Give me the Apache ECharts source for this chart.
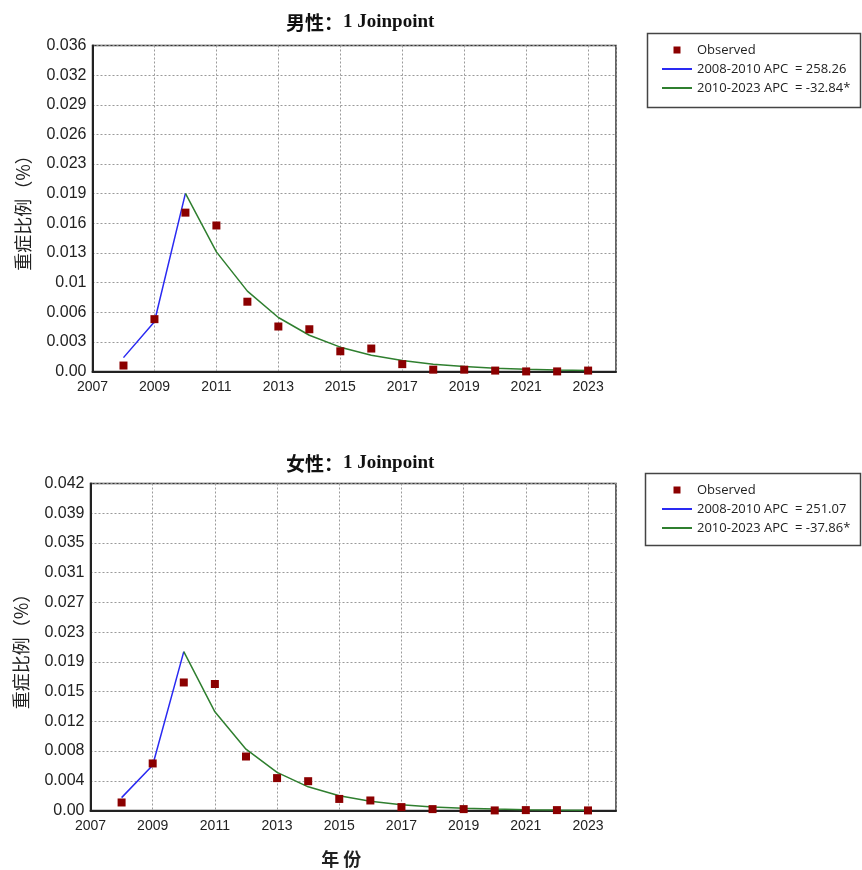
<!DOCTYPE html>
<html><head><meta charset="utf-8">
<script src="https://cdn.jsdelivr.net/npm/echarts@6/dist/echarts.min.js"></script>
<style>html,body{margin:0;padding:0;background:#fff}#c{width:862px;height:870px}</style>
</head><body><div id="c"></div>
<script>
// ---- data ----
const baseYear = 2007;
const years = [2008,2009,2010,2011,2012,2013,2014,2015,2016,2017,2018,2019,2020,2021,2022,2023];
const xTickLabels = ['2007','2009','2011','2013','2015','2017','2019','2021','2023'];

const maleObserved = [0.00065,0.0057,0.0173,0.0159,0.0076,0.0049,0.0046,0.0022,0.0025,0.0008,0.0002,0.0002,0.0001,0.00001,0.00001,0.0001];
const maleSeg1Years = [2008,2009,2010];
const maleSeg1Fit = [0.00151,0.00542,0.0194];
const maleSeg2Years = [2010,2011,2012,2013,2014,2015,2016,2017,2018,2019,2020,2021,2022,2023];
const maleSeg2Fit = [0.0194,0.01303,0.00875,0.00588,0.00395,0.00265,0.00178,0.00120,0.00080,0.00054,0.00036,0.00024,0.00016,0.00011];
const maleYTicks = ['0.00','0.003','0.006','0.01','0.013','0.016','0.019','0.023','0.026','0.029','0.032','0.036'];
const maleNames = ['Observed','2008-2010 APC  = 258.26','2010-2023 APC  = -32.84*'];

const femaleObserved = [0.00104,0.0061,0.0166,0.0164,0.0070,0.0042,0.0038,0.0015,0.0013,0.00044,0.00018,0.00018,0.00001,0.00005,0.00005,0.00001];
const femaleSeg1Years = [2008,2009,2010];
const femaleSeg1Fit = [0.00167,0.00587,0.0206];
const femaleSeg2Years = [2010,2011,2012,2013,2014,2015,2016,2017,2018,2019,2020,2021,2022,2023];
const femaleSeg2Fit = [0.0206,0.0128,0.00795,0.00494,0.00307,0.00191,0.00119,0.00074,0.00046,0.00028,0.00018,0.00011,0.00007,0.00004];
const femaleYTicks = ['0.00','0.004','0.008','0.012','0.015','0.019','0.023','0.027','0.031','0.035','0.039','0.042'];
const femaleNames = ['Observed ','2008-2010 APC  = 251.07','2010-2023 APC  = -37.86*'];

const maleYMax = 0.0355, femaleYMax = 0.0424;
const xMax = 16.9;

// ---- build ----
const pair = (ys, vs) => ys.map((y, i) => [y - baseYear, vs[i]]);
const C_OBS = '#8b0000', C_BLUE = '#2a2af2', C_GREEN = '#2f7f2f';
const FONT = "'Liberation Sans', Arial, sans-serif";

function xAxis(gi, withName) {
  return {
    type: 'value', gridIndex: gi, min: 0, max: xMax, interval: 2,
    axisLine: { show: true, onZero: false, lineStyle: { color: '#222', width: 2 } },
    axisTick: { show: false },
    axisLabel: { color: '#222', fontSize: 14, fontFamily: FONT, margin: 9,
      formatter: v => { const k = v / 2; return Math.abs(k - Math.round(k)) < 1e-6 ? (xTickLabels[Math.round(k)] || '') : ''; } },
    splitLine: { show: true, lineStyle: { color: '#9a9a9a', type: [2, 2], width: 1 } },
    name: withName ? '年 份' : '', nameLocation: 'middle', nameGap: 40,
    nameTextStyle: { fontFamily: "'Noto Sans CJK SC'", fontSize: 18, fontWeight: 'bold', color: '#222', padding: [0, 24, 0, 0] }
  };
}
function yAxis(gi, max, ticks) {
  const step = max / 11;
  return {
    type: 'value', gridIndex: gi, min: 0, max: max, interval: step,
    axisLine: { show: true, lineStyle: { color: '#222', width: 2 } },
    axisTick: { show: false },
    axisLabel: { color: '#222', fontSize: 16, fontFamily: FONT, margin: 6,
      formatter: v => ticks[Math.round(v / step)] || '' },
    splitLine: { show: true, lineStyle: { color: '#9a9a9a', type: [2, 2], width: 1 } },
    name: '重症比例（%）', nameLocation: 'middle', nameRotate: 90, nameGap: 60,
    nameTextStyle: { fontFamily: "'Noto Sans CJK SC'", fontSize: 18, color: '#222' }
  };
}
function seriesFor(gi, names, obs, s1y, s1, s2y, s2) {
  return [
    { type: 'line', name: names[1], xAxisIndex: gi, yAxisIndex: gi, data: pair(s1y, s1), symbol: 'none',
      lineStyle: { color: C_BLUE, width: 1.5 }, itemStyle: { color: C_BLUE }, z: 2 },
    { type: 'line', name: names[2], xAxisIndex: gi, yAxisIndex: gi, data: pair(s2y, s2), symbol: 'none',
      lineStyle: { color: C_GREEN, width: 1.5 }, itemStyle: { color: C_GREEN }, z: 2 },
    { type: 'scatter', name: names[0], xAxisIndex: gi, yAxisIndex: gi, data: pair(years, obs), symbol: 'rect',
      symbolSize: 8, itemStyle: { color: C_OBS, opacity: 1 }, z: 3 }
  ];
}
function legendFor(names, top) {
  return {
    orient: 'vertical', left: 657, top: top, itemWidth: 30, itemHeight: 7, itemGap: 5,
    selectedMode: false,
    textStyle: { fontFamily: "'Open Sans', sans-serif", fontSize: 13, color: '#222', lineHeight: 14 },
    data: [
      { name: names[0], icon: 'path://M0,0h1v1h-1z', itemStyle: { color: C_OBS, opacity: 1 } },
      { name: names[1], icon: 'path://M0,0h30v2h-30z', itemStyle: { color: C_BLUE } },
      { name: names[2], icon: 'path://M0,0h30v2h-30z', itemStyle: { color: C_GREEN } }
    ]
  };
}

const chart = echarts.init(document.getElementById('c'), null, { renderer: 'canvas' });
chart.setOption({
  animation: false,
  backgroundColor: '#fff',
  title: [
    { text: '{a|男性：}{b|1 Joinpoint}', left: 281, top: 8,
      textStyle: { rich: { a: { fontFamily: "'Noto Sans CJK SC'", fontSize: 19, color: '#111' },
                           b: { fontFamily: "'Liberation Serif', serif", fontWeight: 'bold', fontSize: 19, color: '#111' } } } },
    { text: '{a|女性：}{b|1 Joinpoint}', left: 281, top: 449,
      textStyle: { rich: { a: { fontFamily: "'Noto Sans CJK SC'", fontSize: 19, color: '#111' },
                           b: { fontFamily: "'Liberation Serif', serif", fontWeight: 'bold', fontSize: 19, color: '#111' } } } }
  ],
  grid: [
    { left: 92.5, top: 45.5, width: 523.5, height: 326, show: true, borderColor: '#333', borderWidth: 1.5 },
    { left: 90.5, top: 483.5, width: 525.5, height: 327, show: true, borderColor: '#333', borderWidth: 1.5 }
  ],
  xAxis: [xAxis(0, false), xAxis(1, true)],
  yAxis: [yAxis(0, maleYMax, maleYTicks), yAxis(1, femaleYMax, femaleYTicks)],
  legend: [legendFor(maleNames, 38), legendFor(femaleNames, 478)],
  graphic: [
    { type: 'rect', shape: { x: 647.5, y: 33.5, width: 213, height: 74 }, style: { fill: 'none', stroke: '#444', lineWidth: 1.5 }, z: -1 },
    { type: 'rect', shape: { x: 645.5, y: 473.5, width: 215, height: 72 }, style: { fill: 'none', stroke: '#444', lineWidth: 1.5 }, z: -1 }
  ],
  series: [
    ...seriesFor(0, maleNames, maleObserved, maleSeg1Years, maleSeg1Fit, maleSeg2Years, maleSeg2Fit),
    ...seriesFor(1, femaleNames, femaleObserved, femaleSeg1Years, femaleSeg1Fit, femaleSeg2Years, femaleSeg2Fit)
  ]
});
</script></body></html>
